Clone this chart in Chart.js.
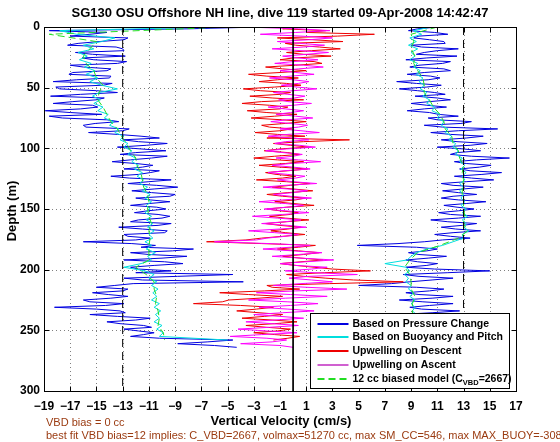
<!DOCTYPE html>
<html lang="en">
<head>
<meta charset="UTF-8">
<title>SG130 dive 119 vertical velocity</title>
<script src="https://cdn.jsdelivr.net/npm/chart.js"></script>
<style>
  body { margin: 0; background: #fff; }
</style>
</head>
<body>
<canvas id="myChart" width="560" height="442"></canvas>
<script>
// ---- data (depth in m, velocity in cm/s) ----
const depths = [0,3,6,9,12,15,18,21,24,27,30,33,36,39,42,45,48,51,54,57,60,63,66,69,72,75,78,81,84,87,
  90,93,96,99,102,105,108,111,114,117,120,123,126,129,132,135,138,141,144,147,150,153,156,159,162,165,168,171,174,177,
  180,183,186,189,192,195,198,201,204,207,210,213,216,219,222,225,228,231,234,237,240,243,246,249,252,255,258,261,264];
const depthsMid = [1.5,4.5,7.5,10.5,13.5,16.5,19.5,22.5,25.5,28.5,
  31.5,34.5,37.5,40.5,43.5,46.5,49.5,52.5,55.5,58.5,
  61.5,64.5,67.5,70.5,73.5,76.5,79.5,82.5,85.5,88.5,
  91.5,94.5,97.5,100.5,103.5,106.5,109.5,112.5,115.5,118.5,
  121.5,124.5,127.5,130.5,133.5,136.5,139.5,142.5,145.5,148.5,
  151.5,154.5,157.5,160.5,163.5,166.5,169.5,172.5,175.5,178.5,
  181.5,184.5,187.5,190.5,193.5,196.5,199.5,202.5,205.5,208.5,
  211.5,214.5,217.5,220.5,223.5,226.5,229.5,232.5,235.5,238.5,
  241.5,244.5,247.5,250.5,253.5,256.5,259.5,262.5];
const depthsCoarse = [0,6,12,18,24,30,36,42,48,54,60,66,72,78,84,90,96,102,108,114,120,126,132,138,144,150,156,162,168,174,
  180,186,192,198,204,210,216,222,228,234,240,246,252,258,264];

// based on pressure change (blue)
const pressDown = [-2.5,-18.6,-15.5,-12.6,-14.8,-17.2,-13.0,-16.6,-12.8,-15.2,
  -13.4,-16.0,-14.2,-17.1,-14.0,-18.3,-14.5,-17.8,-13.4,-18.5,
  -15.0,-18.3,-14.9,-18.9,-14.6,-17.6,-13.3,-16.0,-12.5,-15.6,
  -11.6,-13.0,-9.6,-13.4,-9.7,-13.2,-10.8,-13.8,-10.7,-12.9,
  -10.9,-13.9,-9.3,-12.6,-8.8,-12.3,-9.0,-12.0,-9.4,-12.4,
  -9.7,-12.1,-9.4,-11.8,-9.3,-13.3,-9.6,-12.9,-10.9,-16.0,
  -10.5,-7.6,-12.4,-8.1,-12.9,-8.4,-12.4,-9.3,-4.6,-12.9,
  -3.8,-13.6,-12.6,-15.3,-12.6,-16.0,-12.9,-18.2,-13.2,-15.5,
  -10.9,-14.2,-11.4,-12.9,-10.6,-12.4,-4.6,-8.8,-4.3];
const pressDownMid = [-8.0,-14.2,-17.0,-12.9,-16.4,-13.5,-12.9,-15.3,-16.1,-12.7,
  -17.0,-13.9,-16.8,-13.9,-16.5,-13.8,-18.1,-15.0,-16.2,-14.4,
  -16.8,-15.3,-16.2,-17.0,-18.6,-14.2,-15.1,-15.8,-13.0,-13.4,
  -10.2,-11.8,-11.2,-11.6,-12.0,-9.6,-12.4,-12.0,-11.5,-10.2,
  -11.8,-12.5,-11.0,-10.4,-10.6,-10.8,-9.4,-10.9,-11.0,-10.4,
  -11.1,-10.3,-10.0,-12.4,-10.3,-11.5,-9.8,-12.6,-12.0,-12.3,
  -11.6,-9.2,-11.0,-10.0,-9.8,-10.6,-11.8,-12.0,-8.8,-11.5,
  -12.2,-15.0,-13.0,-14.1,-13.9,-15.5,-14.3,-15.0,-12.8,-13.4,
  -12.0,-13.2,-10.8,-11.8,-11.4,-10.2,-6.5,-6.0];
const pressUp = [11.0,8.8,11.8,9.2,11.5,9.0,12.6,10.0,12.5,8.6,
  11.4,8.9,12.0,8.7,11.2,7.9,11.3,8.1,10.8,9.3,
  12.0,9.0,11.7,8.7,11.1,10.3,13.6,10.0,15.6,10.5,
  14.5,11.3,14.8,11.0,14.3,12.0,16.5,12.3,15.1,12.7,
  15.9,12.3,15.3,11.3,14.5,11.4,14.0,11.3,14.7,11.5,
  13.8,11.1,14.3,10.5,14.0,11.3,14.3,10.8,13.5,10.0,
  4.9,11.0,8.8,11.7,8.6,11.0,8.6,15.0,8.4,12.2,
  8.9,5.0,11.5,8.6,12.2,8.1,12.2,8.9,12.7,8.0,
  10.8,8.6,11.9,8.2,11.4,8.5,10.6,7.0,3.0];
const pressUpMid = [9.5,10.8,9.6,10.4,11.6,9.8,11.0,9.4,10.2,12.0,
  9.6,11.5,10.0,10.5,10.3,9.4,10.2,9.5,11.6,11.0,
  10.4,10.2,10.0,10.4,12.6,11.0,12.8,11.4,12.6,12.0,
  13.2,12.5,13.5,13.0,12.5,13.6,14.0,13.2,14.2,13.5,
  14.4,13.6,13.2,12.2,13.0,12.6,12.2,12.6,13.2,12.5,
  12.6,12.0,12.6,11.8,12.9,12.4,12.2,12.0,11.4,8.0,
  9.4,10.2,9.6,10.3,9.5,10.2,10.8,11.8,9.6,10.6,
  7.5,9.4,10.4,9.6,10.6,9.9,10.4,9.8,10.6,9.2,
  9.9,9.4,10.6,9.4,10.4,9.0,9.6,5.0];

// based on buoyancy and pitch (cyan)
const buoyDown = [-6.0,-17.8,-16.5,-13.6,-14.6,-16.0,-15.2,-16.4,-15.7,-16.3,
  -15.4,-15.9,-15.1,-15.8,-14.9,-15.5,-14.6,-13.4,-14.8,-15.3,
  -14.7,-15.2,-14.5,-14.9,-14.1,-14.4,-13.7,-14.0,-13.3,-13.6,
  -12.9,-13.2,-12.6,-12.9,-12.3,-12.6,-12.0,-12.3,-11.8,-12.1,
  -11.5,-11.9,-11.4,-11.7,-11.1,-11.5,-10.9,-11.3,-10.8,-11.2,
  -10.9,-11.3,-10.8,-11.2,-10.7,-11.1,-10.6,-11.0,-10.7,-11.3,
  -10.8,-11.2,-10.5,-11.1,-10.8,-11.6,-12.9,-11.3,-10.6,-11.0,
  -10.4,-10.8,-10.3,-10.7,-10.4,-10.8,-10.2,-10.6,-10.1,-10.5,
  -10.2,-10.6,-10.0,-10.4,-9.9,-10.2,-5.0,null,null];
const buoyUp = [10.5,9.2,9.8,8.9,9.4,8.8,9.5,9.0,9.3,8.9,
  9.5,9.2,9.7,9.4,9.9,9.6,10.0,9.7,10.2,9.9,
  10.4,10.2,10.8,10.6,11.2,11.0,11.5,11.3,11.8,11.6,
  12.1,11.9,12.4,12.2,12.6,12.4,12.9,12.7,13.1,12.8,
  13.2,12.9,13.1,12.7,13.0,12.7,13.0,12.8,13.1,12.8,
  13.2,12.9,13.3,12.9,13.2,13.0,13.4,12.9,13.0,12.2,
  11.4,10.2,9.4,9.0,8.7,7.0,8.6,8.9,8.5,8.8,
  8.6,9.0,8.8,9.2,8.9,9.3,9.0,9.3,9.1,9.4,
  9.0,9.3,9.2,9.5,9.3,9.4,9.0,7.5,2.0];

// upwelling on descent (red) and on ascent (magenta)
const upwellDown = [0.5,2.5,6.2,-1.2,3.8,0.2,3.6,-0.5,2.9,-1.0,
  2.2,-2.1,1.0,-3.4,0.4,-2.6,0.6,-3.8,-0.2,-3.3,
  0.8,-3.9,-0.4,-3.5,0.3,-3.2,1.0,-2.4,-0.1,-2.9,
  0.9,4.3,-1.5,1.2,-2.2,0.5,-3.0,0.8,-2.6,1.1,
  -2.1,0.2,-2.8,1.3,-1.6,1.5,-2.0,0.9,-1.4,1.6,
  -2.0,0.4,-1.8,1.2,-2.1,0.6,-1.7,0.9,-2.4,-6.6,
  1.7,-1.2,2.0,-0.8,2.3,-1.0,1.6,5.9,-0.5,2.5,
  8.4,-2.0,0.5,-5.6,-0.8,-4.9,-7.6,-1.5,-4.3,-0.8,
  -3.9,0.3,-3.6,-0.2,-3.0,0.5,-1.5,null,null];
const upwellDownMid = [-0.8,1.0,3.4,1.5,-0.6,2.0,1.4,0.8,0.0,1.6,
  0.2,-0.8,-1.0,-2.0,-1.2,-0.5,-1.4,-2.5,-1.0,-1.6,
  -2.4,-1.8,-1.0,-2.0,-1.4,-0.8,-0.6,-1.8,-1.0,-1.2,
  -2.0,0.8,-0.2,-1.0,-0.4,-1.4,-1.2,-0.6,-1.0,-0.4,
  -1.3,-0.8,-0.5,-0.2,0.0,-0.4,-0.8,0.2,0.0,-0.5,
  -1.0,-0.2,-0.6,-0.5,-1.0,-0.4,-0.6,-0.8,-3.6,-2.4,
  0.4,0.4,0.8,0.6,0.6,0.2,3.0,2.4,0.8,4.6,
  2.8,-1.6,-2.2,-3.4,-2.6,-5.4,-4.0,-2.8,-2.6,-2.2,
  -1.6,-1.4,-2.0,-1.2,-1.4,-0.4,null,null];
const upwellUp = [-3.6,2.8,-2.5,3.0,-1.2,2.4,-1.6,2.7,-0.8,1.9,
  -1.4,2.3,-1.0,1.6,-1.8,1.2,-0.9,1.8,-1.5,0.9,
  -1.1,1.4,-1.9,0.8,-1.3,1.5,-1.7,1.1,-1.0,2.0,
  -1.9,1.2,-1.4,1.7,-2.1,0.7,-1.3,2.1,-1.6,1.3,
  -1.9,0.9,-1.2,1.8,-2.3,1.1,-1.5,1.4,-2.6,0.8,
  -2.2,1.2,-3.1,0.6,-2.4,1.0,-3.4,0.4,-2.0,-6.0,
  1.3,-2.3,2.2,-1.6,3.1,-1.0,2.6,-0.6,4.9,-0.3,
  3.0,-1.5,4.1,-2.8,2.6,-3.4,1.9,-2.6,1.6,-3.0,
  0.8,-3.6,0.4,-4.2,0.3,-4.8,-0.5,-4.0,0.0];
const upwellUpMid = [0.4,0.2,0.6,1.2,0.5,0.8,0.6,1.0,0.4,0.0,
  0.8,0.4,0.2,-0.2,0.0,0.4,0.3,0.0,-0.4,0.1,
  -0.4,0.0,-0.6,-0.2,0.2,-0.5,-0.2,0.4,0.6,-0.4,
  0.0,-0.6,0.5,-0.5,-0.8,0.0,0.4,-0.2,0.0,-0.7,
  -0.4,0.2,0.0,-0.6,-0.4,0.0,-0.2,-0.8,-0.6,-0.4,
  -0.6,-0.8,-1.2,-0.6,-0.4,-1.0,-1.4,-0.6,-2.8,-1.8,
  -0.2,0.0,0.4,0.6,1.0,0.2,1.4,1.6,1.2,1.4,
  0.6,1.0,0.2,-0.2,-0.6,-0.4,-0.2,-0.4,-0.8,-1.0,
  -1.4,-1.6,-1.8,-2.0,-2.4,-2.0,-1.6,-1.0];

// 12 cc biased model (green dashed)
const modelDown = [-5.0,-18.6,-15.0,-15.5,-16.0,-15.8,-15.2,-15.0,-14.5,-14.8,
  -14.9,-14.5,-14.2,-13.9,-13.4,-13.1,-12.7,-12.4,-12.0,-11.9,
  -11.6,-11.5,-11.4,-11.1,-11.0,-11.1,-11.0,-10.8,-11.0,-10.9,
  -11.0,-11.0,-11.0,-12.0,-11.2,-10.6,-10.6,-10.4,-10.5,-10.3,
  -10.2,-10.3,-9.9,-9.8,null];
const modelUp = [11.0,9.0,9.2,9.0,9.3,9.2,9.5,9.9,10.0,10.0,
  10.4,10.7,11.2,11.5,11.6,12.1,12.2,12.6,12.7,13.0,
  12.9,13.0,12.9,12.9,13.0,13.0,13.1,13.0,13.3,12.6,
  11.2,9.5,8.9,8.5,8.9,9.0,9.0,9.3,9.1,9.1,
  9.1,9.2,9.4,9.2,2.0];

const refDashed = [-13, 13];   // dashed verticals
const refSolid = [0];          // solid vertical
const xTicks = [-19,-17,-15,-13,-11,-9,-7,-5,-3,-1,1,3,5,7,9,11,13,15,17];
const yTicks = [0,50,100,150,200,250,300];

const legendNames = ['Based on Pressure Change', 'Based on Buoyancy and Pitch',
  'Upwelling on Descent', 'Upwelling on Ascent', '12 cc biased model (C'];
const titleText = 'SG130 OSU Offshore NH line, dive 119 started 09-Apr-2008 14:42:47';
const noteLines = ['VBD bias = 0 cc',
  'best fit VBD bias=12 implies: C_VBD=2667, volmax=51270 cc, max SM_CC=546, max MAX_BUOY=-308'];

// ---- styles ----
const C_BLUE = '#0000e0', C_CYAN = '#00dede', C_RED = '#ee0000', C_MAG = '#ff00ff', C_GREEN = '#22dd22';
const FONT = '"Liberation Sans", Arial, Helvetica, sans-serif';

function pts(dep, vals) {
  return dep.map((d, i) => ({x: vals[i], y: d})).filter(p => p.x !== null);
}
// merge the main samples with the in-between samples, in depth order
function pts2(dep, vals, depMid, valsMid) {
  const out = [];
  dep.forEach((d, i) => {
    out.push({x: vals[i], y: d});
    if (i < depMid.length) out.push({x: valsMid[i], y: depMid[i]});
  });
  return out.filter(p => p.x !== null);
}
function vline(v) {
  return [{x: v, y: yTicks[0]}, {x: v, y: yTicks[yTicks.length - 1]}];
}
function lineSet(data, color, order, dash) {
  return {data, borderColor: color, backgroundColor: color, borderWidth: 1, pointRadius: 0,
    showLine: true, tension: 0, order, borderDash: dash || []};
}

const datasets = [
  lineSet(pts2(depths, pressDown, depthsMid, pressDownMid), C_BLUE, 6),
  lineSet(pts2(depths, pressUp, depthsMid, pressUpMid), C_BLUE, 6),
  lineSet(pts(depths, buoyDown), C_CYAN, 5),
  lineSet(pts(depths, buoyUp), C_CYAN, 5),
  lineSet(pts2(depths, upwellDown, depthsMid, upwellDownMid), C_RED, 4),
  lineSet(pts2(depths, upwellUp, depthsMid, upwellUpMid), C_MAG, 3),
  lineSet(pts(depthsCoarse, modelDown), C_GREEN, 2, [7, 4]),
  lineSet(pts(depthsCoarse, modelUp), C_GREEN, 2, [7, 4]),
];
refDashed.forEach(v => datasets.push(lineSet(vline(v), '#000', 1, [8, 5])));
refSolid.forEach(v => datasets.push(lineSet(vline(v), '#000', 1)));

const legendStyles = [
  {color: C_BLUE}, {color: C_CYAN}, {color: C_RED}, {color: '#d060d0'}, {color: C_GREEN, dash: [7, 4]}
];

// MATLAB-style axes box, dotted grid, legend and texts
const matlabLook = {
  id: 'matlabLook',
  beforeDatasetsDraw(chart) {
    const {ctx, chartArea: a, scales} = chart;
    ctx.save();
    ctx.lineWidth = 1;
    ctx.strokeStyle = '#808080';
    ctx.setLineDash([1, 3]);
    ctx.beginPath();
    xTicks.slice(1, -1).forEach(v => {
      const px = Math.round(scales.x.getPixelForValue(v)) + 0.5;
      ctx.moveTo(px, a.top); ctx.lineTo(px, a.bottom);
    });
    yTicks.slice(1, -1).forEach(v => {
      const py = Math.round(scales.y.getPixelForValue(v)) + 0.5;
      ctx.moveTo(a.left, py); ctx.lineTo(a.right, py);
    });
    ctx.stroke();
    ctx.restore();
  },
  afterDatasetsDraw(chart) {
    const {ctx, chartArea: a, scales} = chart;
    ctx.save();
    ctx.strokeStyle = '#000';
    ctx.lineWidth = 1;
    ctx.setLineDash([]);
    const L = Math.round(a.left) + 0.5, T = Math.round(a.top) + 0.5;
    const R = Math.round(a.right) + 0.5, B = Math.round(a.bottom) + 0.5;
    ctx.strokeRect(L, T, R - L, B - T);
    ctx.beginPath();
    xTicks.forEach(v => {
      const px = Math.round(scales.x.getPixelForValue(v)) + 0.5;
      ctx.moveTo(px, B); ctx.lineTo(px, B - 5);
      ctx.moveTo(px, T); ctx.lineTo(px, T + 5);
    });
    yTicks.forEach(v => {
      const py = Math.round(scales.y.getPixelForValue(v)) + 0.5;
      ctx.moveTo(L, py); ctx.lineTo(L + 5, py);
      ctx.moveTo(R, py); ctx.lineTo(R - 5, py);
    });
    ctx.stroke();

    // legend box
    const bx = R - 206, by = B - 78, bw = 199, bh = 75;
    ctx.fillStyle = '#fff';
    ctx.fillRect(bx, by, bw, bh);
    ctx.strokeStyle = '#000';
    ctx.strokeRect(bx, by, bw, bh);
    ctx.font = 'bold 10.5px ' + FONT;
    ctx.textBaseline = 'middle';
    legendNames.forEach((name, i) => {
      const y = Math.round(by + 10 + i * 13.8);
      const st = legendStyles[i];
      ctx.strokeStyle = st.color;
      ctx.lineWidth = 2;
      ctx.setLineDash(st.dash || []);
      ctx.beginPath();
      ctx.moveTo(bx + 7, y); ctx.lineTo(bx + 38, y);
      ctx.stroke();
      ctx.setLineDash([]);
      ctx.fillStyle = '#000';
      let tx = bx + 42;
      ctx.fillText(name, tx, y);
      if (i === legendNames.length - 1) {
        tx += ctx.measureText(name).width;
        ctx.font = 'bold 7.5px ' + FONT;
        ctx.fillText('VBD', tx, y + 4);
        tx += ctx.measureText('VBD').width;
        ctx.font = 'bold 10.5px ' + FONT;
        ctx.fillText('=2667)', tx, y);
      }
    });
    ctx.restore();
  },
  afterDraw(chart) {
    const {ctx, chartArea: a} = chart;
    ctx.save();
    ctx.fillStyle = '#000';
    ctx.textAlign = 'center';
    ctx.textBaseline = 'middle';
    ctx.font = 'bold 13px ' + FONT;
    ctx.fillText(titleText, (a.left + a.right) / 2, 13);
    ctx.fillText('Vertical Velocity (cm/s)', (a.left + a.right) / 2 + 1, 421);
    ctx.translate(12, (a.top + a.bottom) / 2 + 2);
    ctx.rotate(-Math.PI / 2);
    ctx.fillText('Depth (m)', 0, 0);
    ctx.setTransform(1, 0, 0, 1, 0, 0);
    ctx.textAlign = 'left';
    ctx.fillStyle = '#9a3a10';
    ctx.font = '11px ' + FONT;
    ctx.fillText(noteLines[0], 46, 423);
    ctx.fillText(noteLines[1], 46, 436);
    ctx.restore();
  }
};

const minus = v => String(v).replace('-', '\u2212');

new Chart(document.getElementById('myChart'), {
  type: 'scatter',
  data: {datasets},
  options: {
    responsive: false,
    animation: false,
    devicePixelRatio: 1,
    layout: {padding: {top: 27, right: 44, left: 0, bottom: 0}},
    plugins: {legend: {display: false}, tooltip: {enabled: false}},
    scales: {
      x: {
        type: 'linear', min: -19, max: 17,
        grid: {display: false, drawTicks: false},
        border: {display: false},
        ticks: {stepSize: 2, autoSkip: false, maxRotation: 0, padding: 8, color: '#000',
          font: {family: FONT, size: 12, weight: 'bold'}, callback: minus},
        afterFit: s => { s.height = 51; }
      },
      y: {
        type: 'linear', reverse: true, min: 0, max: 300,
        grid: {display: false, drawTicks: false},
        border: {display: false},
        ticks: {stepSize: 50, padding: 4, color: '#000',
          font: {family: FONT, size: 12, weight: 'bold'}},
        afterFit: s => { s.width = 44; }
      }
    }
  },
  plugins: [matlabLook]
});
</script>
</body>
</html>
